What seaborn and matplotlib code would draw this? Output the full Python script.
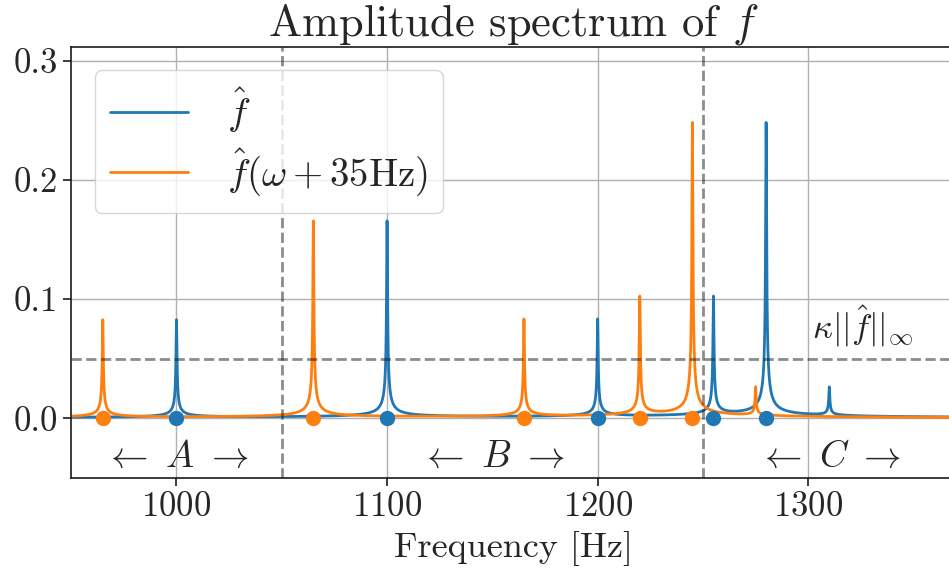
import numpy as np
import matplotlib
matplotlib.use("Agg")
import matplotlib.pyplot as plt
import seaborn as sns

# peaks of f-hat (Hz, amplitude)
peak_freqs = [1000, 1100, 1200, 1255, 1280, 1310]
peak_amps = [0.082, 0.165, 0.082, 0.100, 0.247, 0.024]
shift_hz = 35          # second series is f-hat(w + 35 Hz)
kappa_level = 0.05     # threshold kappa * ||f-hat||_inf
region_edges = [1050, 1250]
region_names = ["A", "B", "C"]
region_centers = [1000, 1150, 1310]
linewidth_hz = 0.2     # half width of each spectral line

sns.set_theme(style="ticks")
plt.rcParams["font.family"] = ["cmr10", "DejaVu Serif"]
plt.rcParams["mathtext.fontset"] = "cm"
plt.rcParams["axes.formatter.use_mathtext"] = True
plt.rcParams["axes.unicode_minus"] = False

freq = np.arange(950, 1370, 0.005)
freq = np.sort(np.concatenate([freq, peak_freqs, np.array(peak_freqs) - shift_hz]))


def spectrum(w):
    # sum of line magnitudes
    s = np.zeros_like(w)
    for f0, a in zip(peak_freqs, peak_amps):
        s += a * linewidth_hz / np.sqrt(linewidth_hz ** 2 + (w - f0) ** 2)
    return s


amp = spectrum(freq)
amp_shift = spectrum(freq + shift_hz)

blue, orange = "#1f77b4", "#ff7f0e"
fig = plt.figure(figsize=(9.49, 5.77), dpi=100)
ax = fig.add_axes([0.075, 0.172, 0.932, 0.747])

sns.lineplot(x=freq, y=amp, ax=ax, color=blue, lw=2, label=r"$\hat{f}$")
sns.lineplot(x=freq, y=amp_shift, ax=ax, color=orange, lw=2,
             label=r"$\hat{f}(\omega + 35\mathrm{Hz})$")

# detected peaks above the threshold
det = [f for f, a in zip(peak_freqs, peak_amps) if a > kappa_level]
ax.plot(det, np.zeros(len(det)), "o", color=blue, ms=10, zorder=4)
ax.plot(np.array(det) - shift_hz, np.zeros(len(det)), "o", color=orange, ms=10, zorder=4)

ax.axhline(kappa_level, color="k", ls="--", lw=2, alpha=0.5)
for e in region_edges:
    ax.axvline(e, color="k", ls="--", lw=2, alpha=0.5)
for c, n in zip(region_centers, region_names):
    ax.text(c, -0.033, r"$\leftarrow\ %s\ \rightarrow$" % n, fontsize=27,
            ha="center", va="center")
ax.text(1302, 0.058, r"$\kappa||\hat{f}||_\infty$", fontsize=25, ha="left", va="bottom")

ax.set_xlim(950, 1370)
ax.set_ylim(-0.05, 0.312)
ax.set_xticks([1000, 1100, 1200, 1300])
ax.set_yticks([0.0, 0.1, 0.2, 0.3])
ax.set_yticklabels(["0.0", "0.1", "0.2", "0.3"])
ax.grid(True, color="#b0b0b0", lw=1)
ax.tick_params(labelsize=25, length=6, width=1.2, color="k")
for s in ax.spines.values():
    s.set_color("k")
    s.set_linewidth(1.2)

ax.set_title(r"Amplitude spectrum of $f$", fontsize=32, pad=5)
ax.set_xlabel("Frequency [Hz]", fontsize=26, labelpad=6)
ax.legend(loc="upper left", fontsize=28, handlelength=2.0, framealpha=0.8,
          borderaxespad=0.6, labelspacing=0.3, handletextpad=1.0)

fig.savefig("out.png", dpi=100)
